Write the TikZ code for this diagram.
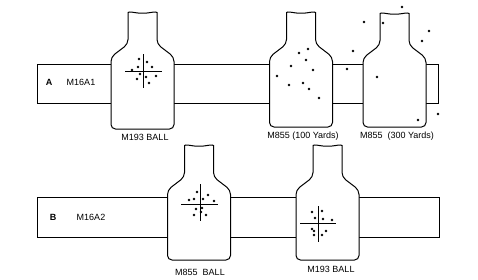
\documentclass[tikz,border=0pt]{standalone}
\usepackage{fontspec}
\setmainfont{Liberation Sans}
\newcommand\tgt[3]{%
  \draw[outline] (#1-31.5,#3) -- (#1-31.5,#2+44) -- (#1-14.5,#2+31) -- (#1-14.5,#2+4)
    to[out=90,in=180] (#1,#2) to[out=0,in=90] (#1+14.5,#2+4) -- (#1+14.5,#2+31)
    -- (#1+31.5,#2+44) -- (#1+31.5,#3) -- cycle;}
\newcommand\hit[2]{\fill (#1,#2) circle (1.3);}
\begin{document}
\begin{tikzpicture}[x=1pt,y=-1pt,
  outline/.style={draw=black,fill=white,line width=1pt,rounded corners=4.5},
  bar/.style={draw=black,fill=white,line width=1pt},
  cross/.style={draw=black,line width=0.7pt},
  lbl/.style={font=\fontsize{9}{10}\selectfont,inner sep=0pt}]
\useasboundingbox (0,0) rectangle (478,279);
% row A
\draw[bar] (37,64) rectangle (438,103);
\tgt{142.5}{13}{129}
\tgt{301}{13}{127}
\tgt{394.5}{14}{127}
% row B
\draw[bar] (37,197) rectangle (439,237);
\tgt{199}{146}{260}
\tgt{327.5}{146}{260}
% crosshairs
\draw[cross] (125,71) -- (162,71) (143,54) -- (143,88);
\draw[cross] (181,204) -- (218,204) (200,184) -- (200,221);
\draw[cross] (300,223) -- (336,223) (318,206) -- (318,242);
% hits T1
\hit{139}{59}\hit{147}{62}\hit{138}{67}\hit{152}{67}\hit{132}{70}
\hit{140}{74}\hit{146}{77}\hit{156}{76}\hit{137}{79}\hit{149}{83}
% hits T2
\hit{299}{53}\hit{308}{49}\hit{306}{60}\hit{291}{66}\hit{313}{70}
\hit{277}{76}\hit{303}{83}\hit{289}{85}\hit{309}{89}\hit{319}{98}
% hits T3
\hit{402}{7}\hit{364}{22}\hit{383}{23}\hit{429}{31}\hit{422}{41}
\hit{353}{51}\hit{347}{69}\hit{377}{77}\hit{438}{114}\hit{418}{120}
% hits T4
\hit{197}{192}\hit{189}{200}\hit{194}{199}\hit{203}{199}\hit{208}{195}
\hit{214}{201}\hit{196}{209}\hit{202}{208}\hit{201}{212}\hit{194}{215}\hit{206}{215}
% hits T5
\hit{312}{212}\hit{322}{211}\hit{315}{218}\hit{323}{219}\hit{332}{220}
\hit{312}{229}\hit{314}{231}\hit{326}{231}\hit{314}{235}\hit{322}{235}
% labels
\node[lbl,font=\fontsize{9}{10}\selectfont\bfseries] (la) at (49,82) {A};
\node[lbl] (ga) at (81,82) {M16A1};
\node[lbl,font=\fontsize{9}{10}\selectfont\bfseries] (lb) at (53,217) {B};
\node[lbl] (gb) at (91,217) {M16A2};
\node[lbl] (t1) at (145,137) {M193 BALL};
\node[lbl] (t2) at (303,136) {M855 (100 Yards)};
\node[lbl] (t3) at (397,136) {M855\ \ (300 Yards)};
\node[lbl] (t4) at (200,272) {M855\ \ BALL};
\node[lbl] (t5) at (331,269) {M193 BALL};
\end{tikzpicture}
\end{document}
